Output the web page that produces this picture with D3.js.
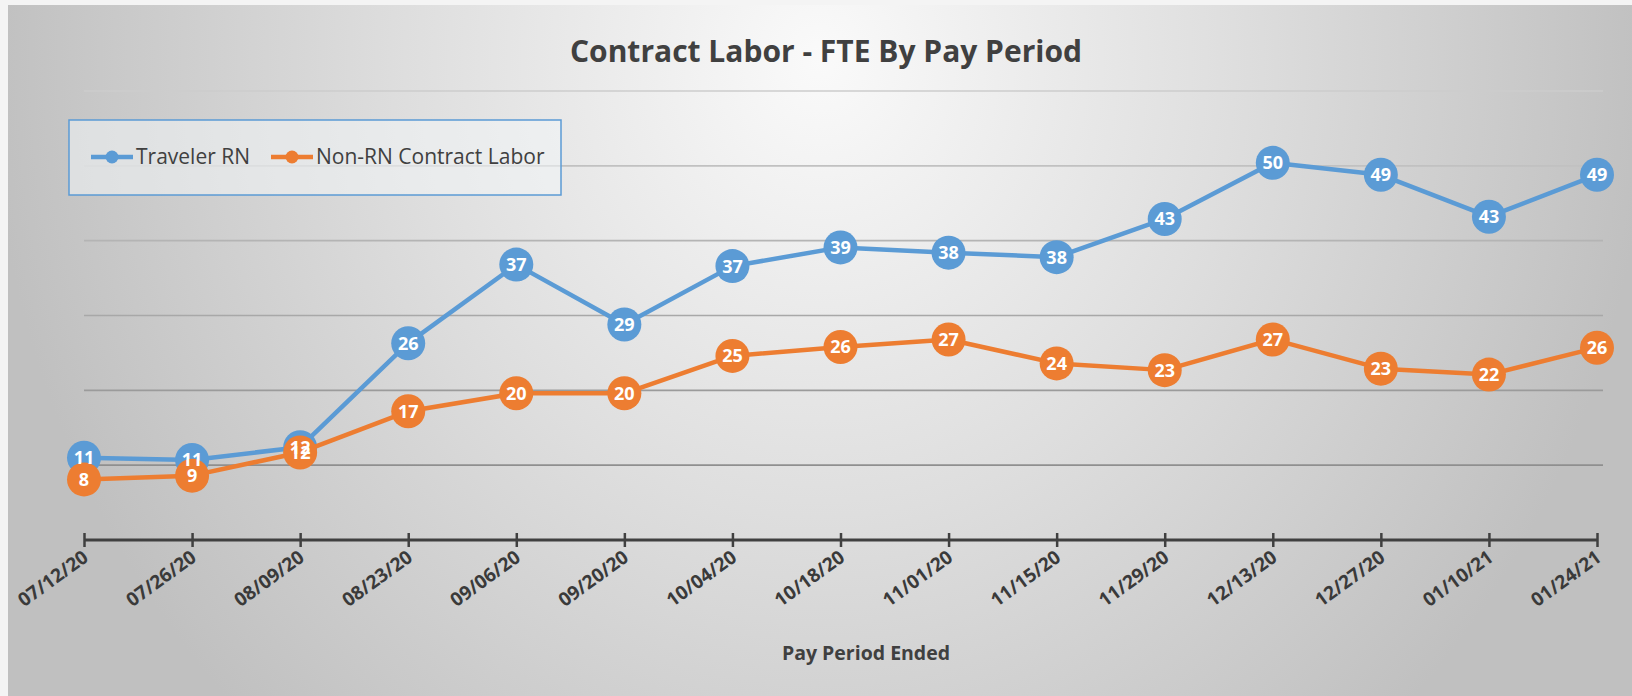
<!DOCTYPE html>
<html>
<head>
<meta charset="utf-8">
<script src="https://cdn.jsdelivr.net/npm/d3@7"></script>
<style>
  html, body { margin: 0; padding: 0; background: #f4f4f4; }
  svg { display: block; }
</style>
</head>
<body>
<div id="chart"></div>
<script>
// data
const periods = ["07/12/20","07/26/20","08/09/20","08/23/20","09/06/20","09/20/20","10/04/20","10/18/20","11/01/20","11/15/20","11/29/20","12/13/20","12/27/20","01/10/21","01/24/21"];
const travelerRN = [11.0, 10.7, 12.4, 26.3, 36.8, 28.8, 36.6, 39.1, 38.4, 37.8, 42.9, 50.4, 48.8, 43.2, 48.8];
const nonRN = [8.1, 8.6, 11.7, 17.2, 19.6, 19.6, 24.6, 25.8, 26.8, 23.6, 22.7, 26.8, 22.9, 22.1, 25.7];
const yTicks = [10, 20, 30, 40, 50, 60];
const seriesNames = ["Traveler RN", "Non-RN Contract Labor"];

const BLUE = "#5B9BD5";
const ORANGE = "#ED7D31";
const W = 1632, H = 696;

const svg = d3.select("#chart").append("svg")
  .attr("width", W)
  .attr("height", H);

// background gradient
const defs = svg.append("defs");
const grad = defs.append("radialGradient")
  .attr("id", "bg")
  .attr("gradientUnits", "userSpaceOnUse")
  .attr("cx", 820).attr("cy", 60).attr("r", 830)
  .attr("gradientTransform", "translate(820,60) scale(1,1.1) translate(-820,-60)");
grad.append("stop").attr("offset", "0%").attr("stop-color", "#fafafa");
grad.append("stop").attr("offset", "50%").attr("stop-color", "#dedede");
grad.append("stop").attr("offset", "100%").attr("stop-color", "#c0c0c0");

svg.append("rect")
  .attr("x", 8).attr("y", 5)
  .attr("width", W - 8).attr("height", H - 5)
  .attr("fill", "url(#bg)");

// scales
const x = d3.scalePoint().domain(periods).range([84, 1597]);
const y = d3.scaleLinear().domain([0, 60]).range([540, 91]);

// gridlines
const gridColor = d3.scaleLinear().domain([60, 10]).range(["#cdcdcd", "#8f8f8f"]);
svg.append("g")
  .selectAll("line")
  .data(yTicks)
  .join("line")
  .attr("x1", 84).attr("x2", 1603)
  .attr("y1", d => y(d)).attr("y2", d => y(d))
  .attr("stroke", d => gridColor(d))
  .attr("stroke-width", 1.6);

// title
svg.append("text")
  .attr("x", 826).attr("y", 62)
  .attr("text-anchor", "middle")
  .attr("font-family", "'Open Sans', sans-serif")
  .attr("font-weight", "bold")
  .attr("font-size", "30px")
  .attr("fill", "#404040")
  .text("Contract Labor - FTE By Pay Period");

// legend
const legend = svg.append("g");
legend.append("rect")
  .attr("x", 69).attr("y", 120)
  .attr("width", 492).attr("height", 75)
  .attr("fill", "#f2f5f8").attr("fill-opacity", 0.55)
  .attr("stroke", BLUE).attr("stroke-width", 1.5);

const legendItems = [
  { name: seriesNames[0], color: BLUE, x0: 91 },
  { name: seriesNames[1], color: ORANGE, x0: 271 }
];
legendItems.forEach(it => {
  legend.append("line")
    .attr("x1", it.x0).attr("x2", it.x0 + 42)
    .attr("y1", 157).attr("y2", 157)
    .attr("stroke", it.color).attr("stroke-width", 4.5);
  legend.append("circle")
    .attr("cx", it.x0 + 21).attr("cy", 157).attr("r", 6.5)
    .attr("fill", it.color);
  legend.append("text")
    .attr("x", it.x0 + 45).attr("y", 164)
    .attr("font-family", "'Open Sans', sans-serif")
    .attr("font-size", "21px")
    .attr("fill", "#404040")
    .text(it.name);
});

// x axis
const xAxis = svg.append("g")
  .attr("transform", "translate(0,540)")
  .call(d3.axisBottom(x).tickSizeInner(7).tickSizeOuter(0).tickPadding(6));
xAxis.select(".domain")
  .attr("stroke", "#404040").attr("stroke-width", 3)
  .attr("d", `M84,0H1598`);
xAxis.selectAll(".tick line")
  .attr("stroke", "#404040").attr("stroke-width", 2.5)
  .attr("y1", -7).attr("y2", 7);
xAxis.selectAll(".tick text")
  .attr("font-family", "'Open Sans', sans-serif")
  .attr("font-weight", "bold")
  .attr("font-size", "19px")
  .attr("fill", "#3a3a3a")
  .attr("text-anchor", "end")
  .attr("dy", null)
  .attr("y", 0)
  .attr("transform", "translate(5,20) rotate(-36)");

// axis title
svg.append("text")
  .attr("x", 866).attr("y", 660)
  .attr("text-anchor", "middle")
  .attr("font-family", "'Open Sans', sans-serif")
  .attr("font-weight", "bold")
  .attr("font-size", "19.5px")
  .attr("fill", "#404040")
  .text("Pay Period Ended");

// lines and markers
const line = d3.line()
  .x((d, i) => x(periods[i]))
  .y(d => y(d));

const series = [
  { values: travelerRN, color: BLUE },
  { values: nonRN, color: ORANGE }
];

series.forEach(s => {
  svg.append("path")
    .datum(s.values)
    .attr("fill", "none")
    .attr("stroke", s.color)
    .attr("stroke-width", 4.5)
    .attr("stroke-linejoin", "round")
    .attr("d", line);
  svg.append("g")
    .selectAll("circle")
    .data(s.values)
    .join("circle")
    .attr("cx", (d, i) => x(periods[i]))
    .attr("cy", d => y(d))
    .attr("r", 17)
    .attr("fill", s.color);
});

// data labels
series.forEach(s => {
  svg.append("g")
    .selectAll("text")
    .data(s.values)
    .join("text")
    .attr("x", (d, i) => x(periods[i]))
    .attr("y", d => y(d) + 6.5)
    .attr("text-anchor", "middle")
    .attr("font-family", "'Open Sans', sans-serif")
    .attr("font-weight", "bold")
    .attr("font-size", "18px")
    .attr("fill", "#ffffff")
    .text(d => Math.round(d));
});
</script>
</body>
</html>
